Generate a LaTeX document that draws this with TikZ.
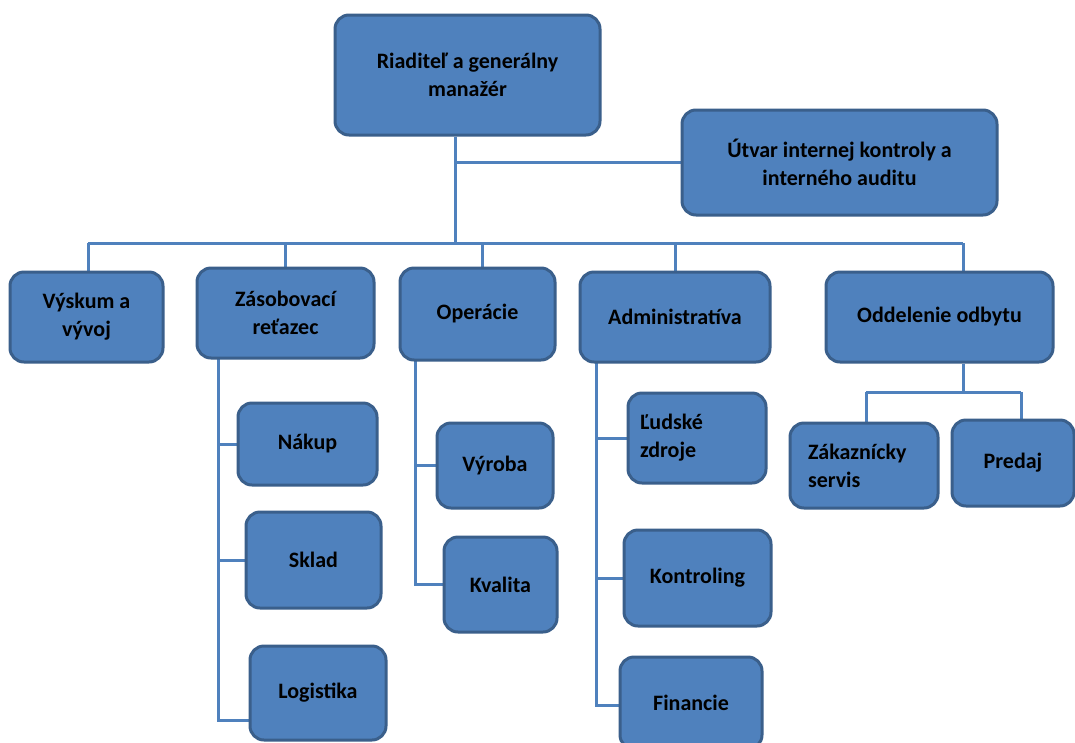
\documentclass[tikz,border=0pt]{standalone}
\usepackage{fontspec}
\setmainfont{Carlito}
\usetikzlibrary{backgrounds,calc}
\definecolor{boxfill}{HTML}{4F81BD}
\definecolor{boxline}{HTML}{3A5F8B}
\definecolor{conn}{HTML}{4F81BD}
\tikzset{
  orgbox/.style={draw=boxline, line width=3pt, fill=boxfill, rounded corners=14pt,
    font=\fontsize{22}{28}\selectfont\bfseries, text=black, align=center, inner sep=0pt},
  link/.style={draw=conn, line width=3pt}
}
\newcommand{\obox}[6]{% name, x1, y1, x2, y2, text
  \node[orgbox, minimum width=#4-#2, minimum height=#5-#3] (#1) at ({(#2+#4)/2},{(#3+#5)/2}) {#6};}
\begin{document}
\begin{tikzpicture}[x=1pt,y=-1pt]
\useasboundingbox (0,0) rectangle (1075,742);
\obox{top}{335}{15}{600}{135}{Riaditeľ a generálny\\manažér}
\obox{audit}{682}{110}{997}{215}{Útvar internej kontroly a\\interného auditu}
\obox{vyskum}{10}{272}{163}{362}{Výskum a\\vývoj}
\obox{zas}{197}{268}{374}{358}{Zásobovací\\reťazec}
\obox{oper}{400}{268}{555}{360}{\raisebox{-5pt}{Operácie}}
\obox{adm}{580}{272}{770}{362}{\raisebox{-4pt}{Administratíva}}
\obox{odd}{826}{272}{1053}{362}{Oddelenie odbytu}
\obox{nakup}{238}{403}{377}{485}{Nákup}
\obox{sklad}{246}{512}{381}{608}{Sklad}
\obox{log}{250}{646}{386}{740}{Logistika}
\obox{vyroba}{437}{423}{553}{508}{Výroba}
\obox{kval}{444}{537}{557}{632}{Kvalita}
\node[orgbox, minimum width=138, minimum height=90, text width=114, align=left] (ludske) at (697,438) {Ľudské\\zdroje};
\obox{kontr}{624}{530}{771}{626}{\raisebox{-3pt}{Kontroling}}
\obox{fin}{620}{657}{762}{749}{Financie}
\node[orgbox, minimum width=148, minimum height=85, text width=112, align=left] (zak) at (864,465.5) {Zákaznícky\\servis};
\obox{predaj}{952}{420}{1074}{506}{Predaj}
\begin{scope}[on background layer]
  \fill[white] (0,0) rectangle (1075,742);
  \coordinate (bus) at (455,243);
  \coordinate (busL) at (88,243);
  \coordinate (busR) at (963,243);
  \draw[link] (bus |- top.south) -- (bus);
  \draw[link] (bus |- audit.west) -- (audit.west);
  \draw[link] (busL) -- (busR);
  \draw[link] (busL) -- (busL |- vyskum.north);
  \draw[link] (zas.north |- busL) -- (zas.north);
  \draw[link] ([xshift=4.5pt]oper.north |- busL) -- ([xshift=4.5pt]oper.north);
  \draw[link] (adm.north |- busL) -- (adm.north);
  \draw[link] (busR) -- (busR |- odd.north);
  % Zasobovaci
  \coordinate (zs) at (218,358);
  \draw[link] (zs) |- ([yshift=-27pt]log.west);
  \draw[link] (zs |- nakup.west) -- (nakup.west);
  \draw[link] (zs |- sklad.west) -- (sklad.west);
  % Operacie
  \coordinate (os) at (415,360);
  \draw[link] (os) |- (kval.west);
  \draw[link] (os |- vyroba.west) -- (vyroba.west);
  % Administrativa
  \coordinate (as) at (596,362);
  \draw[link] (as) |- ([yshift=-2pt]fin.west);
  \draw[link] (as |- ludske.west) -- (ludske.west);
  \draw[link] (as |- kontr.west) -- (kontr.west);
  % Oddelenie
  \coordinate (ob) at (963,392);
  \coordinate (obL) at (866,392);
  \coordinate (obR) at (1021,392);
  \draw[link] (ob |- odd.south) -- (ob);
  \draw[link] (obL) -- (obR);
  \draw[link] (obL) -- (obL |- zak.north);
  \draw[link] (obR) -- (obR |- predaj.north);
\end{scope}
\end{tikzpicture}
\end{document}
